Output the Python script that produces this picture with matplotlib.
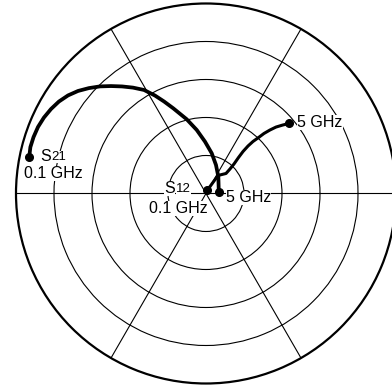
import numpy as np
import matplotlib
matplotlib.use("Agg")
import matplotlib.pyplot as plt

plt.rcParams['font.family'] = ['Liberation Sans', 'DejaVu Sans']

# S21 trace, 0.1 GHz -> 5 GHz (angle in degrees, magnitude normalised)
s21_deg = [168.3, 165.2, 161.9, 158.4, 154.9, 151.4, 148.0, 144.6, 141.3,
           138.0, 134.7, 131.5, 128.1, 124.6, 120.9, 117.5, 114.5, 111.0,
           104.6, 98.3, 91.1, 81.9, 70.7, 53.8, 8.1]
s21_mag = [0.950, 0.956, 0.955, 0.951, 0.942, 0.929, 0.913, 0.891, 0.863,
           0.829, 0.793, 0.755, 0.716, 0.677, 0.635, 0.581, 0.532, 0.480,
           0.404, 0.338, 0.273, 0.214, 0.159, 0.110, 0.068]

# S12 trace, 0.1 GHz -> 5 GHz
s12_deg = [66.8, 56.3, 45.0, 45.6, 46.5, 47.9, 48.6, 48.5, 47.9, 46.8,
           46.0, 44.8, 43.5, 41.8, 40.1]
s12_mag = [0.020, 0.114, 0.149, 0.180, 0.214, 0.255, 0.295, 0.334, 0.369,
           0.404, 0.439, 0.474, 0.508, 0.540, 0.573]

ring_r = [0.2, 0.4, 0.6, 0.8]
spoke_deg = [0, 60, 120, 180, 240, 300]
f_start = "0.1 GHz"
f_stop = "5 GHz"

fig = plt.figure(figsize=(3.92, 3.89), dpi=100)
ax = fig.add_axes([0.0408, 0.01414, 0.9694, 0.9769], projection='polar')
ax.set_ylim(0, 1)
ax.set_rgrids(ring_r, labels=[])
ax.set_thetagrids(spoke_deg, labels=[])
ax.grid(True, color='black', linewidth=0.8)
ax.spines['polar'].set_linewidth(1.6)
ax.tick_params(length=0)

th21 = np.deg2rad(s21_deg)
th12 = np.deg2rad(s12_deg)
ax.plot(th21, s21_mag, color='black', lw=2.7, solid_capstyle='round',
        solid_joinstyle='round', zorder=5)
ax.plot(th12, s12_mag, color='black', lw=2.2, solid_capstyle='round',
        solid_joinstyle='round', zorder=5)
ax.plot([th21[0], th21[-1], th12[0], th12[-1]],
        [s21_mag[0], s21_mag[-1], s12_mag[0], s12_mag[-1]],
        'o', color='black', ms=5.5, zorder=6)

box = dict(facecolor='white', edgecolor='none', pad=0)


def label(th, r, txt, dx, dy, size=11.5, z=4):
    ax.annotate(txt, xy=(th, r), xytext=(dx, dy), textcoords='offset pixels',
                ha='left', va='baseline', fontsize=size, bbox=box, zorder=z)


# S21 start
label(th21[0], s21_mag[0], f_start, -5, -21)
label(th21[0], s21_mag[0], "S", 11, -4, z=4.5)
label(th21[0], s21_mag[0], "21", 22.5, -3, size=9.5, z=4.5)
# S12 start
label(th12[0], s12_mag[0], f_start, -58, -23)
label(th12[0], s12_mag[0], "S", -43, -3, z=4.5)
label(th12[0], s12_mag[0], "12", -31.5, -2, size=9.5, z=4.5)
# stop labels
label(th21[-1], s21_mag[-1], f_stop, 7, -10)
label(th12[-1], s12_mag[-1], f_stop, 8, -4)

fig.savefig("out.png", dpi=100)
